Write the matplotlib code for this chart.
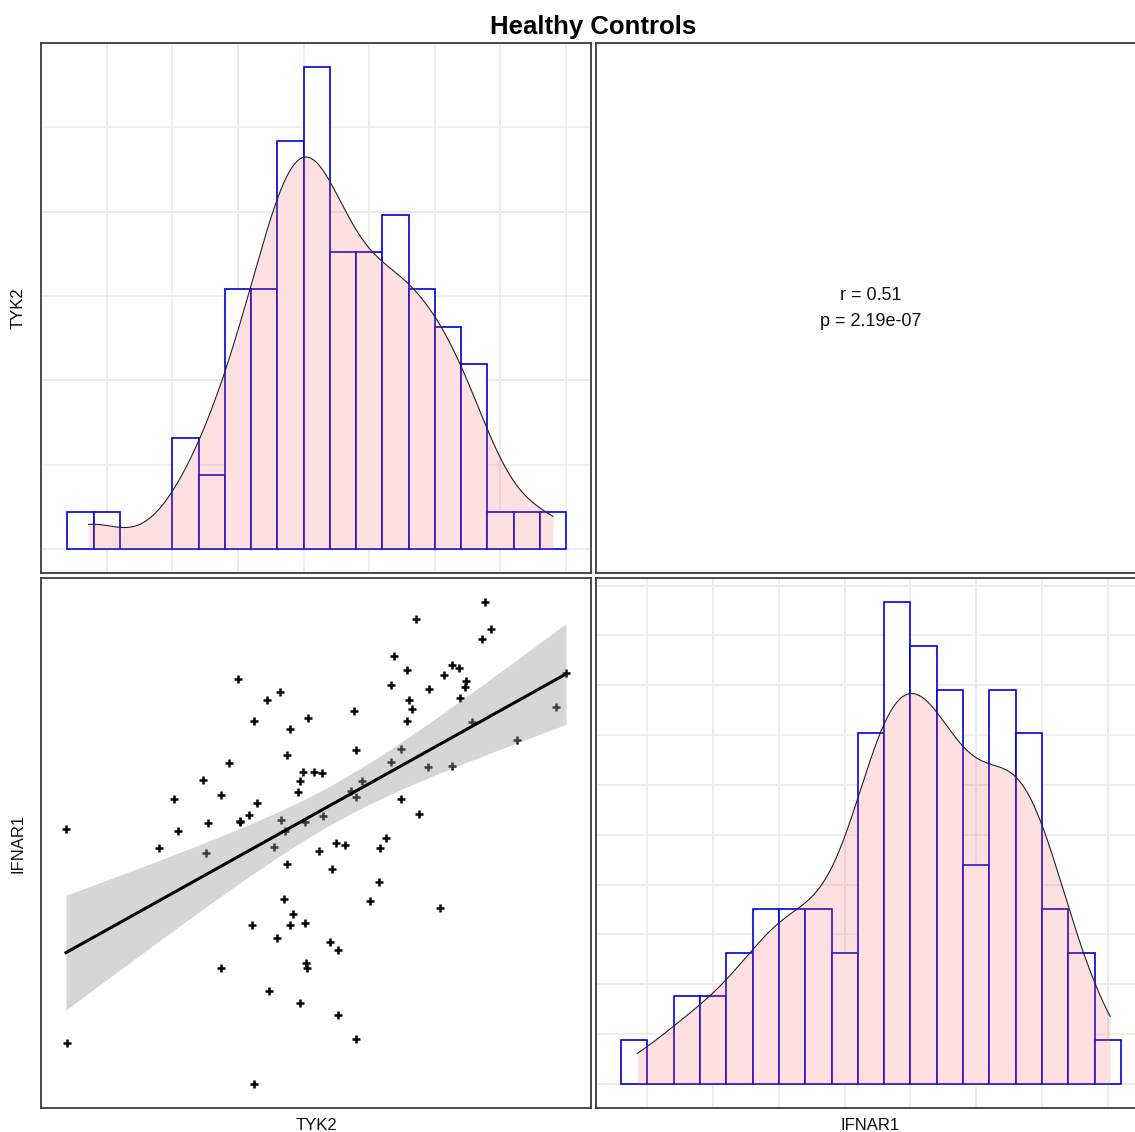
import numpy as np
import matplotlib.pyplot as plt

plt.rcParams['font.family'] = ['Liberation Sans', 'DejaVu Sans']

# expression values per subject (healthy controls)
tyk2 = [5.931, 5.936, 6.261, 6.314, 6.327, 6.415, 6.428, 6.434, 6.478, 6.479,
        6.508, 6.541, 6.545, 6.577, 6.589, 6.595, 6.596, 6.605, 6.643, 6.648,
        6.667, 6.677, 6.687, 6.692, 6.701, 6.714, 6.714, 6.724, 6.723, 6.734,
        6.751, 6.758, 6.758, 6.768, 6.776, 6.776, 6.779, 6.783, 6.787, 6.808,
        6.827, 6.835, 6.840, 6.864, 6.872, 6.885, 6.892, 6.895, 6.919, 6.938,
        6.949, 6.956, 6.956, 6.958, 6.980, 7.007, 7.037, 7.043, 7.062, 7.080,
        7.080, 7.093, 7.116, 7.116, 7.138, 7.139, 7.146, 7.156, 7.171, 7.179,
        7.211, 7.216, 7.255, 7.268, 7.296, 7.296, 7.322, 7.326, 7.341, 7.346,
        7.369, 7.403, 7.415, 7.435, 7.528, 7.664, 7.700,
        6.548, 6.705]
ifnar1 = [6.662, 5.866, 6.591, 6.775, 6.656, 6.845, 6.573, 6.686, 6.791, 6.144,
          6.908, 7.222, 6.691, 6.716, 6.305, 7.065, 5.712, 6.761, 7.142, 6.057,
          6.597, 6.256, 7.172, 6.697, 6.400, 6.939, 6.532, 7.034, 6.305, 6.344,
          6.801, 6.843, 6.012, 6.874, 6.690, 6.312, 6.162, 6.144, 7.075, 6.874,
          6.579, 6.872, 6.713, 6.240, 6.513, 6.610, 6.210, 5.969, 6.603, 6.803,
          7.101, 6.959, 6.782, 5.879, 6.841, 6.395, 6.464, 6.590, 6.631, 7.199,
          6.911, 7.308, 6.962, 6.773, 7.255, 7.065, 7.142, 7.112, 7.446, 6.719,
          6.893, 7.186, 6.368, 7.238, 7.273, 6.899, 7.265, 7.153, 7.194, 7.216,
          7.061, 7.373, 7.509, 7.410, 6.994, 7.118, 7.245,
          6.688, 6.657]

# histogram counts, bin width 0.1
bin_width = 0.1
tyk2_bin_start = 5.85
tyk2_counts = [1, 1, 0, 0, 3, 2, 7, 7, 11, 13, 8, 8, 9, 7, 6, 5, 1, 1, 1]
ifnar1_bin_start = 5.65
ifnar1_counts = [1, 0, 2, 2, 3, 4, 4, 4, 3, 8, 11, 10, 9, 5, 9, 8, 4, 3, 1]

r_label = "r = 0.51"
p_label = "p = 2.19e-07"

W, H = 1135, 1132
border = '#3c3c3c'
grid_col = '#ebebeb'
txt_col = '#111111'


def kde(values, n=512):
    v = np.asarray(values)
    q75, q25 = np.percentile(v, [75, 25])
    bw = 0.9 * min(v.std(ddof=1), (q75 - q25) / 1.34) * len(v) ** -0.2
    gx = np.linspace(v.min(), v.max(), n)
    gy = np.exp(-0.5 * ((gx[:, None] - v[None, :]) / bw) ** 2).sum(axis=1)
    gy /= len(v) * bw * np.sqrt(2 * np.pi)
    return gx, gy


def t975(df):
    z = 1.959964
    return z + (z**3 + z) / (4 * df) + (5 * z**5 + 16 * z**3 + 3 * z) / (96 * df**2)


def panel(left, top):
    ax = fig.add_axes([left / W, 1 - (top + 530) / H, 550 / W, 530 / H])
    for sp in ax.spines.values():
        sp.set_color(border)
        sp.set_linewidth(1.3)
    ax.tick_params(length=0, labelbottom=False, labelleft=False)
    ax.set_xticks([])
    ax.set_yticks([])
    return ax


def hist_panel(ax, values, start, counts, ystep):
    counts = np.array(counts)
    dens = counts / (counts.sum() * bin_width)
    edges = start + bin_width * np.arange(len(counts))
    ax.bar(edges, dens, width=bin_width, align='edge', color='white',
           edgecolor='#0000e0', linewidth=1.2, zorder=2)
    gx, gy = kde(values)
    ax.fill_between(gx, 0, gy, color='#ff6666', alpha=0.2, lw=0, zorder=3)
    ax.plot(gx, gy, color='#222222', lw=0.8, zorder=4)

    lo, hi = start, start + bin_width * len(counts)
    pad = 0.05 * (hi - lo)
    ax.set_xlim(lo - pad, hi + pad)
    ymax = dens.max()
    ax.set_ylim(-0.05 * ymax, 1.05 * ymax)

    ax.set_xticks(np.arange(np.ceil(lo / 0.5) * 0.5, hi + pad, 0.5))
    ax.set_xticks(np.arange(np.ceil(lo / 0.5) * 0.5 - 0.25, hi + pad, 0.5), minor=True)
    ax.set_yticks(np.arange(0, 1.05 * ymax, 2 * ystep))
    ax.set_yticks(np.arange(ystep, 1.05 * ymax, 2 * ystep), minor=True)
    ax.tick_params(which='both', length=0, labelbottom=False, labelleft=False)
    ax.grid(which='major', color=grid_col, lw=1.4, zorder=0)
    ax.grid(which='minor', color=grid_col, lw=1.1, zorder=0)
    ax.set_axisbelow(True)


fig = plt.figure(figsize=(W / 100, H / 100), dpi=100)

# TYK2 diagonal
ax1 = panel(41, 43)
hist_panel(ax1, tyk2, tyk2_bin_start, tyk2_counts, 0.25)

# correlation text
ax2 = panel(596, 43)
ax2.text(0.5, 0.5245, r_label, ha='center', va='center', fontsize=13,
         color=txt_col, transform=ax2.transAxes)
ax2.text(0.5, 0.4736, p_label, ha='center', va='center', fontsize=13,
         color=txt_col, transform=ax2.transAxes)

# scatter with linear fit
ax3 = panel(41, 578)
x = np.array(tyk2)
y = np.array(ifnar1)
n = len(x)
ax3.scatter(x, y, marker='+', s=26, c='black', linewidths=1.8, zorder=2)
slope, icpt = np.polyfit(x, y, 1)
xs = np.linspace(x.min(), x.max(), 80)
fit = icpt + slope * xs
resid = y - (icpt + slope * x)
s_res = np.sqrt((resid ** 2).sum() / (n - 2))
se = s_res * np.sqrt(1 / n + (xs - x.mean()) ** 2 / ((x - x.mean()) ** 2).sum())
t = t975(n - 2)
ax3.fill_between(xs, fit - t * se, fit + t * se, color='#999999', alpha=0.4, lw=0, zorder=3)
ax3.plot(xs, fit, color='black', lw=2.2, zorder=4)
xpad = 0.05 * (x.max() - x.min())
ypad = 0.05 * (y.max() - y.min())
ax3.set_xlim(x.min() - xpad, x.max() + xpad)
ax3.set_ylim(y.min() - ypad, y.max() + ypad)

# IFNAR1 diagonal
ax4 = panel(596, 578)
hist_panel(ax4, ifnar1, ifnar1_bin_start, ifnar1_counts, 0.125)

fig.text(593 / W, 1 - 27 / H, "Healthy Controls", ha='center', va='center',
         fontsize=18.5, fontweight='bold')
fig.text(18 / W, 1 - 308 / H, "TYK2", ha='center', va='center', rotation=90,
         fontsize=12, color=txt_col)
fig.text(18 / W, 1 - 843 / H, "IFNAR1", ha='center', va='center', rotation=90,
         fontsize=12, color=txt_col)
fig.text(316 / W, 1 - 1125 / H, "TYK2", ha='center', va='center',
         fontsize=12, color=txt_col)
fig.text(870 / W, 1 - 1125 / H, "IFNAR1", ha='center', va='center',
         fontsize=12, color=txt_col)

fig.savefig('out.png', dpi=100)
